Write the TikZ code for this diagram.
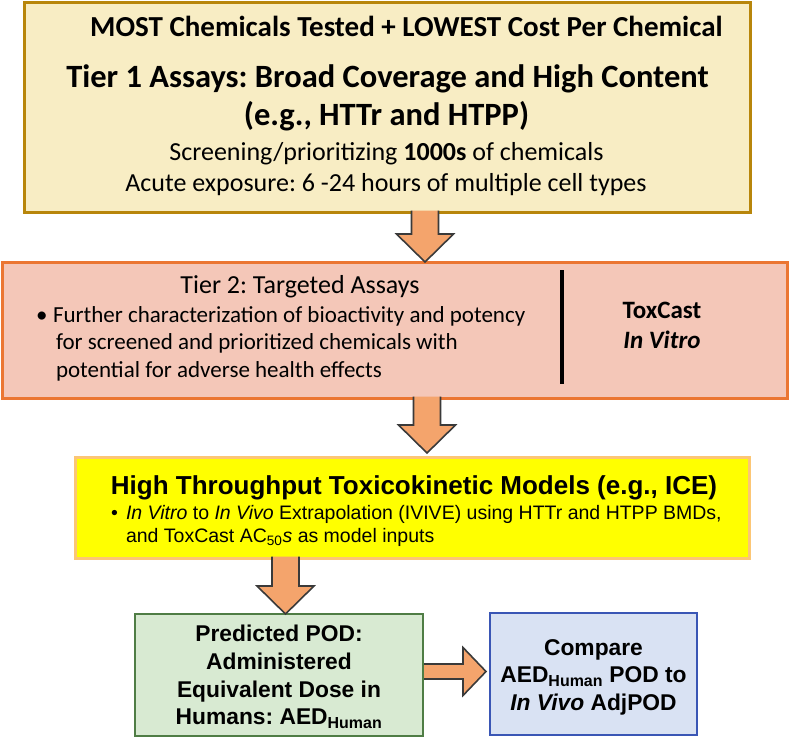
\documentclass[tikz,border=0pt]{standalone}
\usepackage{fontspec}
\setmainfont{Carlito}
\newfontfamily\arialf{Liberation Sans}
\usetikzlibrary{calc}
\frenchspacing
\definecolor{tanfill}{HTML}{F8EDC4}
\definecolor{tanbord}{HTML}{B8860B}
\definecolor{pinkfill}{HTML}{F4C7B8}
\definecolor{pinkbord}{HTML}{EB7632}
\definecolor{yelfill}{HTML}{FFFF00}
\definecolor{yelbord}{HTML}{FCC675}
\definecolor{grnfill}{HTML}{D8EAD2}
\definecolor{grnbord}{HTML}{4F7D45}
\definecolor{blufill}{HTML}{D9E2F3}
\definecolor{blubord}{HTML}{3A56B5}
\definecolor{arrfill}{HTML}{F4A46C}
\definecolor{arrline}{HTML}{3A3A3A}
\tikzset{
  box/.style={draw, rectangle, inner sep=0pt, outer sep=0pt},
  txt/.style={inner sep=0pt, outer sep=0pt, anchor=base, text=black},
  txtw/.style={inner sep=0pt, outer sep=0pt, anchor=base west, text=black},
  blkarrow/.style={fill=arrfill, draw=arrline, line width=1.6pt, line join=miter},
}
\begin{document}
\begin{tikzpicture}[x=1pt,y=-1pt]
\useasboundingbox (0,0) rectangle (789,738);
% boxes
\node[box, fill=tanfill, draw=tanbord, line width=3pt, minimum width=726pt, minimum height=209pt] (b1) at (387,107.5) {};
\node[box, fill=pinkfill, draw=pinkbord, line width=3pt, minimum width=785pt, minimum height=136pt] (b2) at (394.5,330) {};
\node[box, fill=yelfill, draw=yelbord, line width=3pt, minimum width=674pt, minimum height=101pt] (b3) at (412,507.5) {};
\node[box, fill=grnfill, draw=grnbord, line width=2pt, minimum width=288pt, minimum height=122pt] (b4) at (279,675) {};
\node[box, fill=blufill, draw=blubord, line width=2pt, minimum width=207pt, minimum height=122pt] (b5) at (593.5,674) {};
% arrow anchor coordinates
\coordinate (a1top) at ($(b1.south)+(38,-1.5)$);
\coordinate (a1tip) at (a1top |- b2.north);
\coordinate (a2top) at ($(b2.south)+(32.5,-1.5)$);
\coordinate (a2tip) at ($(a2top |- b3.north)+(0,-4)$);
\coordinate (a3top) at ($(b3.south)+(-126.5,-1.5)$);
\coordinate (a3tip) at (a3top |- b4.north);
\coordinate (a4start) at ($(b4.east)+(1,-3.5)$);
\coordinate (a4tip) at ($(a4start -| b5.west)+(-4,0)$);
% block arrows
\foreach \t/\h in {a1top/a1tip, a2top/a2tip, a3top/a3tip}{
  \fill[arrfill] let \p1=(\t), \p2=(\h) in
    (\x1-13.5pt,\y1) -- (\x1-13.5pt,\y2+28pt) -- (\x1-28.5pt,\y2+28pt) -- (\x1,\y2)
    -- (\x1+28.5pt,\y2+28pt) -- (\x1+13.5pt,\y2+28pt) -- (\x1+13.5pt,\y1) -- cycle;
  \draw[blkarrow, fill=none] let \p1=(\t), \p2=(\h) in
    (\x1-13.5pt,\y1) -- (\x1-13.5pt,\y2+28pt) -- (\x1-28.5pt,\y2+28pt) -- (\x1,\y2)
    -- (\x1+28.5pt,\y2+28pt) -- (\x1+13.5pt,\y2+28pt) -- (\x1+13.5pt,\y1);
}
\fill[arrfill] let \p1=(a4start), \p2=(a4tip) in
  (\x1,\y1+7.5pt) -- (\x2-23pt,\y1+7.5pt) -- (\x2-23pt,\y1+24pt) -- (\x2,\y1)
  -- (\x2-23pt,\y1-24pt) -- (\x2-23pt,\y1-7.5pt) -- (\x1,\y1-7.5pt) -- cycle;
\draw[blkarrow, fill=none] let \p1=(a4start), \p2=(a4tip) in
  (\x1,\y1+7.5pt) -- (\x2-23pt,\y1+7.5pt) -- (\x2-23pt,\y1+24pt) -- (\x2,\y1)
  -- (\x2-23pt,\y1-24pt) -- (\x2-23pt,\y1-7.5pt) -- (\x1,\y1-7.5pt);
% box 1 text
\node[txt, font=\fontsize{29}{33}\selectfont\bfseries] (t1a) at (406.5,36.5) {MOST Chemicals Tested + LOWEST Cost Per Chemical};
\node[txt, font=\fontsize{32.5}{36}\selectfont\bfseries] (t1b) at (387.5,87.5) {Tier 1 Assays: Broad Coverage and High Content};
\node[txt, font=\fontsize{32.5}{36}\selectfont\bfseries] (t1c) at (386.5,125.5) {(e.g., HTTr and HTPP)};
\node[txt, font=\fontsize{26}{30}\selectfont] (t1d) at (386.5,160.5) {Screening/prioritizing \textbf{1000s} of chemicals};
\node[txt, font=\fontsize{26}{30}\selectfont] (t1e) at (386,191.5) {Acute exposure: 6 -24 hours of multiple cell types};
% box 2 text
\node[txt, font=\fontsize{26}{30}\selectfont] (t2a) at (300,293.5) {Tier 2: Targeted Assays};
\node[txtw, font=\fontsize{23}{27}\selectfont] (t2bul) at (36,322.5) {\textbullet};
\node[txtw, font=\fontsize{23}{27}\selectfont] (t2b1) at (53,322.5) {Further characterization of bioactivity and potency};
\node[txtw, font=\fontsize{23}{27}\selectfont] (t2b2) at (56,349.5) {for screened and prioritized chemicals with};
\node[txtw, font=\fontsize{23}{27}\selectfont] (t2b3) at (56,377.5) {potential for adverse health effects};
\draw[line width=4.5pt] (562,270) -- (562,384);
\node[txt, font=\fontsize{25}{29}\selectfont\bfseries] (t2c) at (662,318.5) {ToxCast};
\node[txt, font=\fontsize{25}{29}\selectfont\bfseries\itshape] (t2d) at (662,348.5) {In Vitro};
% box 3 text
\node[txt, font=\arialf\fontsize{26}{30}\selectfont\bfseries] (t3a) at (414,494.5) {High Throughput Toxicokinetic Models (e.g., ICE)};
\node[txtw, font=\arialf\fontsize{19.5}{23}\selectfont] (t3bul) at (111,519) {\textbullet};
\node[txtw, font=\arialf\fontsize{19.5}{23}\selectfont] (t3b1) at (126,519) {\textit{In Vitro} to \textit{In Vivo} Extrapolation (IVIVE) using HTTr and HTPP BMDs,};
\node[txtw, font=\arialf\fontsize{19.5}{23}\selectfont] (t3b2) at (126,542) {and ToxCast AC\textsubscript{50}\textit{s} as model inputs};
% box 4 and 5 text
\node[inner sep=0pt, outer sep=0pt, anchor=center, align=center, font=\arialf\fontsize{22.8}{27.8}\selectfont\bfseries] (t4) at (279,677) {Predicted POD:\\Administered\\Equivalent Dose in\\Humans: AED\textsubscript{Human}};
\node[inner sep=0pt, outer sep=0pt, anchor=center, align=center, font=\arialf\fontsize{22.8}{27.5}\selectfont\bfseries] (t5) at (593.5,677) {Compare\\AED\textsubscript{Human} POD to\\\textit{In Vivo} AdjPOD};
\end{tikzpicture}
\end{document}
